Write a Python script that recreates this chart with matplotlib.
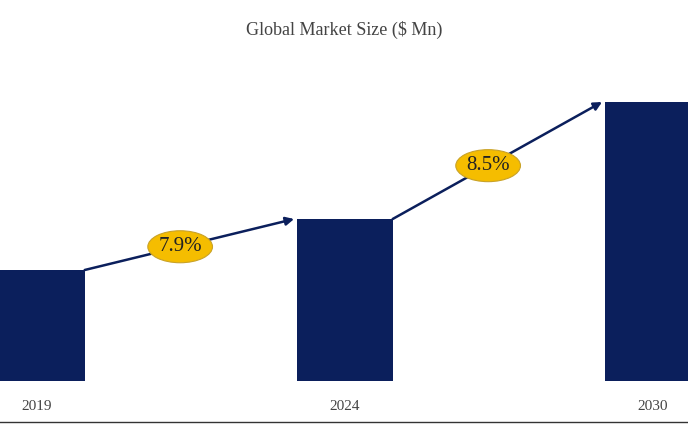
import matplotlib
matplotlib.use('Agg')
import matplotlib.pyplot as plt
from matplotlib.patches import Ellipse

years = ['2019', '2024', '2030']
values = [111, 162, 279]
cagr_labels = ['7.9%', '8.5%']

navy = '#0b1f5c'
gold = '#f5bd00'

fig = plt.figure(figsize=(6.88, 4.24), dpi=100)
ax = fig.add_axes([0, 43 / 424, 1, 321 / 424])
x = list(range(len(years)))
ax.bar(x, values, width=0.31, color=navy)
ax.set_xlim(-0.12, 2.114)
ax.set_ylim(0, 321)
ax.axis('off')

half = 0.155
for i in range(len(years) - 1):
    x0, y0 = x[i] + half, values[i]
    x1, y1 = x[i + 1] - half - 0.01, values[i + 1]
    ax.annotate('', xy=(x1, y1), xytext=(x0, y0),
                arrowprops=dict(arrowstyle='-|>', color=navy, lw=1.8,
                                mutation_scale=12, shrinkA=0, shrinkB=0))
    mx = (x0 + x1) / 2 - 0.03
    my = y0 + (y1 - y0) * (mx - x0) / (x1 - x0)
    ax.add_patch(Ellipse((mx, my), 0.21, 32, facecolor=gold,
                         edgecolor='#c9a227', lw=0.8, zorder=3))
    ax.text(mx, my, cagr_labels[i], ha='center', va='center', fontsize=15,
            family='Liberation Serif', color='#222222', zorder=4)

for xi, yr in zip(x, years):
    ax.text(xi, -25, yr, ha='center', va='center', fontsize=11,
            family='Liberation Serif', color='#444444')

fig.text(0.5, 1 - 30 / 424, 'Global Market Size ($ Mn)', ha='center', va='center',
         fontsize=13, family='Liberation Serif', color='#444444')
fig.add_artist(plt.Line2D([0, 1], [2 / 424, 2 / 424], color='#333333', lw=1))

fig.savefig('out.png', dpi=100)
